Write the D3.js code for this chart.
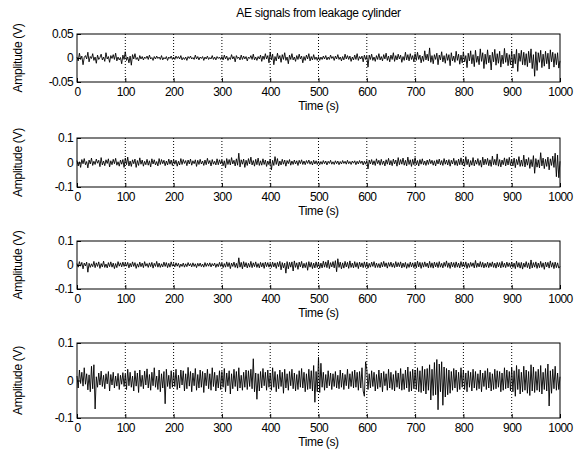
<!DOCTYPE html>
<html>
<head>
<meta charset="utf-8">
<script src="https://cdn.jsdelivr.net/npm/d3@7"></script>
<style>
  body { margin: 0; background: #fff; }
  text { font-family: "Liberation Sans", Arial, sans-serif; fill: #000; }
</style>
</head>
<body>
<svg id="chart" width="578" height="457"></svg>
<script>
// time axis, 0..1000 s; samples spread evenly over it
let xTicks = [0, 100, 200, 300, 400, 500, 600, 700, 800, 900, 1000];
let title = 'AE signals from leakage cylinder';

// amplitudes in mV (40 samples per 100 s)
let sig1 = [
  2,-6,10,-3,4,-14,1,5,-2,12,-8,3,-1,9,-5,2,-11,6,-3,1,8,-4,2,-7,11,-2,3,-9,5,-1,7,-3,10,-6,2,-4,1,-12,6,-3,
  13,-5,2,-10,4,-15,7,-2,9,-3,1,-6,5,-2,3,-4,2,-1,4,-3,6,-2,1,-5,3,-2,4,-1,2,-3,5,-4,1,-2,3,-5,2,-1,4,-3,
  2,-3,4,-1,3,-2,5,-4,1,-3,2,-5,3,-1,4,-2,1,-3,6,-2,3,-4,2,-1,3,-5,2,-2,4,-3,1,-2,5,-3,2,-4,3,-1,2,-3,
  3,-4,6,-2,4,-5,1,-3,7,-2,3,-8,5,-1,2,-4,6,-3,4,-2,3,-6,2,-1,5,-3,8,-4,2,-5,3,-2,6,-7,4,-3,9,-2,5,-10,
  12,-4,8,-14,3,-6,10,-2,5,-9,7,-3,11,-5,2,-12,6,-3,9,-4,2,-7,5,-3,8,-2,4,-10,3,-5,6,-2,9,-6,3,-4,7,-3,2,-5,
  3,-5,2,-3,4,-2,5,-4,2,-3,6,-1,3,-5,4,-2,7,-3,2,-6,3,-4,8,-2,5,-3,4,-7,2,-4,6,-3,9,-5,3,-2,4,-8,6,-3,
  4,-19,6,-3,8,-5,2,-7,5,-3,9,-4,3,-6,7,-2,10,-5,4,-8,6,-3,11,-7,5,-4,8,-2,6,-9,3,-5,12,-4,7,-6,9,-3,5,-8,
  9,-5,12,-3,6,-10,4,-7,15,-4,8,-6,21,-9,5,-12,7,-3,10,-14,6,-4,13,-8,5,-11,9,-5,7,-16,11,-6,4,-9,14,-5,8,-13,6,-10,
  13,-8,5,-20,10,-6,15,-12,7,-18,16,-9,4,-14,19,-7,11,-22,8,-13,17,-10,6,-25,12,-8,18,-15,9,-11,14,-19,6,-12,20,-9,10,-16,7,-14,
  15,-21,8,-12,18,-28,10,-7,16,-14,12,-15,9,-18,14,-10,19,-22,7,-38,13,-26,11,-9,16,-20,8,-17,14,-12,10,-23,17,-8,12,-19,9,-14,11,-21,
  -6
];
let sig2 = [
  8,-14,3,-20,12,-5,16,-9,4,-22,10,-6,18,-12,5,-8,14,-3,9,-17,20,-10,6,-13,11,-4,15,-18,7,-9,13,-5,17,-11,3,-15,10,-7,12,-20,
  18,-9,22,-14,6,-16,11,-5,14,-20,8,-12,19,-7,10,-15,5,-9,13,-11,7,-18,15,-6,11,-10,4,-14,16,-8,12,-5,9,-13,6,-10,14,-7,10,-12,
  13,-7,9,-15,5,-10,16,-8,12,-4,8,-13,10,-6,14,-11,7,-5,11,-16,9,-8,13,-6,6,-12,10,-9,17,-5,8,-14,12,-7,5,-10,15,-9,11,-6,
  10,-13,7,-22,16,-8,12,-10,20,-6,9,-14,15,-11,38,-18,11,-7,14,-20,9,-12,16,-6,22,-10,8,-15,13,-9,18,-12,7,-11,15,-8,10,-16,6,-9,
  14,-30,9,-12,24,-8,16,-14,6,-10,13,-7,10,-15,8,-5,12,-11,6,-8,10,-6,7,-12,9,-5,11,-8,6,-9,8,-4,10,-7,5,-10,9,-6,7,-8,
  6,-9,4,-7,8,-5,6,-10,5,-4,9,-7,3,-8,7,-5,6,-9,4,-6,8,-4,5,-7,9,-5,4,-8,6,-3,7,-9,5,-6,8,-4,6,-10,5,-7,
  8,-26,10,-6,12,-9,7,-12,15,-5,9,-11,13,-8,6,-14,11,-7,17,-10,8,-13,14,-6,10,-15,20,-9,12,-7,18,-11,9,-14,22,-8,11,-16,13,-9,
  20,-10,8,-14,12,-7,15,-9,6,-12,10,-8,13,-5,9,-11,7,-14,11,-6,14,-9,8,-12,16,-7,10,-10,12,-15,9,-6,17,-11,8,-13,14,-9,19,-10,
  12,-15,24,-9,13,-18,8,-11,20,-14,10,-7,16,-12,9,-19,22,-10,14,-8,17,-13,11,-16,26,-9,13,-11,35,-15,12,-18,10,-9,19,-14,15,-10,21,-12,
  11,-14,18,-21,13,-9,24,-16,10,-15,30,-18,14,-11,20,-24,12,-17,28,-44,16,-19,11,-22,40,-14,18,-25,13,-16,22,-30,15,-12,26,-20,38,-58,30,-62,
  5
];
let sig3 = [
  6,-9,14,-5,11,-16,8,-4,12,-30,7,-10,5,-7,15,-11,9,-6,13,-14,6,-8,16,-10,4,-12,10,-7,13,-9,8,-15,6,-11,14,-5,9,-8,12,-6,
  9,-5,11,-12,7,-8,13,-6,10,-14,5,-9,12,-7,8,-11,14,-5,6,-10,9,-7,11,-13,7,-6,15,-9,8,-10,5,-8,12,-6,10,-11,7,-9,13,-5,
  6,-8,9,-5,7,-10,4,-6,8,-9,5,-7,10,-4,6,-8,9,-6,5,-11,7,-5,8,-7,4,-9,10,-6,7,-5,9,-8,6,-4,8,-10,5,-7,11,-6,
  8,-11,6,-9,13,-7,10,-15,8,-6,12,-10,7,-13,30,-9,11,-16,14,-8,10,-12,7,-9,15,-11,9,-7,13,-10,6,-12,11,-8,9,-14,12,-7,10,-9,
  7,-10,12,-8,9,-14,11,-7,15,-20,10,-12,8,-34,14,-16,11,-9,13,-25,17,-10,9,-18,12,-8,15,-13,7,-11,10,-22,14,-9,11,-15,8,-12,13,-10,
  11,-14,8,-12,16,-9,13,-11,20,-15,10,-8,14,-12,18,-28,26,-10,12,-16,9,-13,15,-8,11,-14,17,-10,8,-12,14,-9,10,-15,12,-8,9,-11,13,-10,
  10,-13,7,-9,12,-6,14,-11,8,-10,6,-12,11,-8,15,-7,9,-13,10,-6,12,-9,7,-11,14,-8,10,-7,13,-12,8,-9,11,-14,6,-10,12,-8,9,-11,
  9,-12,16,-8,11,-14,10,-9,13,-7,8,-12,15,-10,9,-13,12,-8,10,-11,14,-9,7,-12,11,-6,17,-10,9,-14,12,-8,10,-11,13,-9,8,-12,14,-7,
  10,-9,13,-14,7,-10,11,-6,9,-12,19,-10,8,-8,14,-9,11,-12,7,-9,12,-11,9,-7,13,-10,8,-13,11,-8,10,-12,15,-9,8,-11,12,-7,9,-10,
  12,-10,8,-15,16,-9,10,-13,11,-17,8,-9,14,-11,9,-16,21,-12,10,-9,13,-14,8,-11,15,-10,9,-18,12,-8,11,-13,17,-9,10,-15,12,-11,9,-13,
  -6
];
let sig4 = [
  12,-20,28,-8,22,-15,34,-10,18,-25,15,-30,38,-22,42,-76,10,-18,20,-12,25,-16,14,-22,18,-9,24,-28,16,-12,22,-20,12,-15,19,-24,14,-10,21,-16,
  17,-24,30,-14,22,-18,12,-28,26,-15,20,-32,28,-16,14,-22,25,-12,31,-20,16,-26,22,-14,34,-18,12,-24,28,-30,18,-20,24,-62,30,-16,14,-22,26,-18,
  22,-16,30,-24,14,-20,28,-12,26,-28,18,-22,35,-15,24,-30,20,-14,32,-26,16,-20,28,-18,24,-32,20,-14,30,-22,18,-26,34,-16,22,-28,14,-20,26,-24,
  24,-18,32,-30,20,-14,26,-36,18,-22,30,-16,24,-28,34,-20,14,-26,22,-18,28,-24,26,-16,30,-22,58,-30,20,-50,18,-28,24,-20,32,-14,22,-26,28,-18,
  20,-26,34,-18,24,-30,16,-22,28,-16,22,-34,30,-20,18,-26,24,-14,30,-22,20,-28,16,-24,26,-18,32,-20,22,-30,18,-24,30,-22,26,-28,40,-58,24,-30,
  62,-32,46,-18,22,-26,16,-20,26,-14,20,-24,18,-16,24,-20,14,-22,28,-18,20,-24,16,-14,30,-22,18,-16,24,-20,28,-18,22,-26,24,-20,34,-28,-42,50,
  30,-24,18,-20,26,-16,22,-28,16,-22,28,-18,20,-30,24,-14,18,-26,30,-20,22,-24,16,-28,26,-18,20,-22,32,-26,18,-24,28,-20,36,-30,24,-28,30,-22,
  28,-24,34,-30,26,-32,38,-28,30,-36,32,-26,42,-52,30,-40,48,-38,56,-78,44,-30,50,-66,36,-44,32,-38,28,-34,24,-26,32,-20,28,-30,22,-24,34,-18,
  28,-24,20,-30,26,-18,22,-28,30,-20,24,-26,18,-22,28,-30,20,-16,26,-24,32,-20,22,-28,18,-24,30,-22,26,-18,24,-30,20,-26,34,-22,28,-20,24,-28,
  34,-30,26,-42,40,-24,30,-36,22,-30,38,-26,28,-34,24,-40,42,-28,36,-32,24,-26,30,-30,40,-36,22,-24,32,-28,44,-68,26,-34,30,-22,38,-26,20,-24,
  10
];

let panels = [
  { data: sig1, lim: 0.05, yTicks: [-0.05, 0, 0.05], top: 34, bottom: 82 },
  { data: sig2, lim: 0.1, yTicks: [-0.1, 0, 0.1], top: 138, bottom: 187 },
  { data: sig3, lim: 0.1, yTicks: [-0.1, 0, 0.1], top: 241, bottom: 289 },
  { data: sig4, lim: 0.1, yTicks: [-0.1, 0, 0.1], top: 343, bottom: 418 }
];

let left = 77, right = 560;
let svg = d3.select('#chart');

let x = d3.scaleLinear().domain([0, 1000]).range([left, right]);

function fmt(v) {
  if (v === 0) return '0';
  return String(v);
}

svg.append('text')
  .attr('x', (left + right) / 2)
  .attr('y', 17)
  .attr('text-anchor', 'middle')
  .style('font-size', '12px')
  .style('letter-spacing', '-0.3px')
  .text(title);

panels.forEach(p => {
  let y = d3.scaleLinear().domain([-p.lim, p.lim]).range([p.bottom, p.top]);
  let g = svg.append('g');
  let step = 1000 / (p.data.length - 1);

  // vertical dotted grid
  g.selectAll('line.grid')
    .data(xTicks.slice(1, -1))
    .join('line')
    .attr('class', 'grid')
    .attr('x1', d => x(d)).attr('x2', d => x(d))
    .attr('y1', p.top).attr('y2', p.bottom)
    .attr('stroke', '#000')
    .attr('stroke-width', 1)
    .attr('stroke-dasharray', '1,2');

  // signal
  let line = d3.line()
    .x((d, i) => x(i * step))
    .y(d => y(d / 1000));
  g.append('path')
    .datum(p.data)
    .attr('d', line)
    .attr('fill', 'none')
    .attr('stroke', '#000')
    .attr('stroke-width', 0.9);

  // box
  g.append('rect')
    .attr('x', left).attr('y', p.top)
    .attr('width', right - left).attr('height', p.bottom - p.top)
    .attr('fill', 'none')
    .attr('stroke', '#000')
    .attr('stroke-width', 1);

  // axes, ticks inward like matlab
  let xAxis = d3.axisBottom(x).tickValues(xTicks).tickSize(-4).tickPadding(5).tickFormat(d3.format('d'));
  let ax = g.append('g').attr('transform', `translate(0,${p.bottom})`).call(xAxis);
  ax.select('.domain').remove();
  ax.selectAll('text').style('font-size', '12px').style('letter-spacing', '-0.6px');

  let yAxis = d3.axisLeft(y).tickValues(p.yTicks).tickSize(-4).tickPadding(4).tickFormat(fmt);
  let ay = g.append('g').attr('transform', `translate(${left},0)`).call(yAxis);
  ay.select('.domain').remove();
  ay.selectAll('text').style('font-size', '12px').style('letter-spacing', '-0.6px');

  g.append('text')
    .attr('x', (left + right) / 2)
    .attr('y', p.bottom + 28)
    .attr('text-anchor', 'middle')
    .style('font-size', '12px')
    .style('letter-spacing', '-0.4px')
    .text('Time (s)');

  g.append('text')
    .attr('transform', `translate(22,${(p.top + p.bottom) / 2}) rotate(-90)`)
    .attr('text-anchor', 'middle')
    .style('font-size', '12px')
    .style('letter-spacing', '-0.3px')
    .text('Amplitude (V)');
});
</script>
</body>
</html>
